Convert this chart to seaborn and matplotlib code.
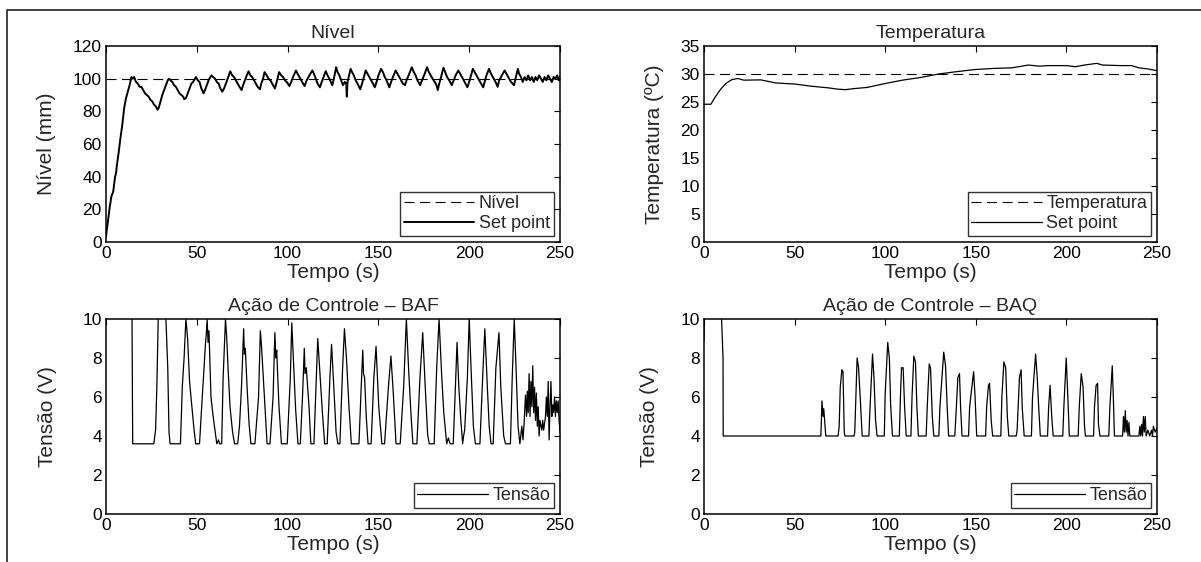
import numpy as np
import pandas as pd
import matplotlib.pyplot as plt
import seaborn as sns
from matplotlib.lines import Line2D

# ---------------------------------------------------------
# DATA
# ---------------------------------------------------------
setpoint_t = [0, 250]
nivel_sp = [100, 100]
temp_sp = [30, 30]

# Nivel (mm)
nivel_t = [0, 0.5, 1, 2, 3, 4, 5, 5.5, 6, 7, 8, 9, 10, 11, 12, 13, 14, 14.7, 15.5, 16.5,
           17.5, 18.5, 19.5, 20.5, 21.5, 22.5, 23.5, 24.5, 25.5, 26.5, 27.5, 28.4, 29, 30, 31, 32,
           33, 34, 34.7, 35.5, 36.5, 37.5, 38.5, 39.5, 40.5, 41.5, 42.5, 43, 44, 45, 46, 47,
           48, 49.5, 50.5, 51.5, 52.5, 53.7, 54.5, 55.5, 56.5, 58, 59, 60, 61, 62, 63, 64,
           65, 66, 67, 68.4, 69.5, 70.5, 71.5, 72.5, 73.5, 74.7, 75.5, 76.5, 77.5, 78.5, 79.5, 80.5,
           81.5, 82.5, 83.5, 84.8, 85.5, 86.5, 87.3, 88.5, 89.5, 90.5, 91.5, 93, 94, 95.3,
           96.5, 97.5, 98.5, 99.5, 101, 102, 103, 104.6, 105.5, 106.5, 107.5, 108.5, 109.4, 110.5,
           112, 113.6, 114.5, 115.5, 116.5, 117.8, 118.8, 119.8, 121, 122, 123, 124.6, 125.5, 126.7,
           127.5, 128.5, 129.5, 130.5, 131.5, 132.3, 132.6, 133, 134.7, 135.5, 136.5, 137.5, 138.5, 140,
           141, 142, 143, 144, 145, 146, 147, 148, 149, 150, 151.5, 152.5, 153.5, 154.5,
           156, 157, 158, 159.5, 160.5, 161.5, 162.5, 163.5, 164.6, 165.5, 167, 168.4, 169.5, 170.5,
           171.5, 173, 174, 175.5, 176.8, 177.8, 178.8, 179.8, 181, 182, 182.7, 183.5, 184.5, 185.8,
           186.8, 187.8, 189, 190.4, 191.5, 192.5, 194, 195, 196, 197, 199, 200, 201, 202,
           203, 204, 205, 206.5, 207.7, 208.5, 209.5, 210.9, 212, 213, 214.5, 215.7, 216.5, 218,
           219.5, 220.5, 221.5, 223, 224.7, 225.5, 226.8, 227.5, 228.5, 229.5, 230.5, 231.5, 232.5, 233.5,
           234.5, 235.5, 236.5, 237.5, 238.5, 239.5, 240.5, 241.5, 242.5, 243.5, 244.5, 245.5, 246.5, 247.5,
           248.5, 249.3, 250]
nivel_v = [3, 8, 12, 21, 28, 31, 40, 42, 47, 55, 64, 72, 82, 88, 92, 96, 101, 100, 101, 98,
           97, 95, 95, 93, 91, 90, 89, 87, 86, 84, 83, 81, 82, 86, 90, 93,
           96, 99, 100, 99, 98, 96, 95, 93, 91, 90, 89, 87.5, 88, 91, 94, 97,
           98, 101, 99, 98, 94, 91, 93, 96, 99, 102, 101, 100, 98, 97, 94, 92,
           94, 97, 100, 104.5, 102, 101, 99, 97, 95, 93, 96, 99, 102, 104.5, 102, 101,
           99, 97, 95, 93.5, 97, 100, 104, 102, 100, 99, 97, 94, 98, 104,
           102, 101, 99, 98, 95.5, 98, 101, 105, 103, 101, 99, 97, 95.5, 99,
           102, 105, 103, 100, 97, 94.7, 98, 101, 104.6, 102, 100, 96, 100, 107,
           104, 102, 99, 96, 98, 97, 89, 98, 106, 104, 102, 99, 97, 93.5,
           97, 101, 105, 103, 101, 99, 97, 94.7, 98, 102, 106, 104, 101, 99,
           94.7, 98, 101, 105, 103, 101, 99, 97, 96, 99, 103, 107, 104, 102,
           99, 96, 99, 103, 107, 104, 102, 100, 98, 96, 93, 97, 101, 106.7,
           104, 101, 99, 96, 99, 102, 105, 103, 101, 99, 94.7, 98, 102, 106,
           104, 102, 100, 97, 94.7, 98, 102, 106, 103, 101, 98, 95, 99, 102,
           105, 103, 101, 98, 96, 100, 106, 103, 101, 98, 101, 99, 102, 99,
           101, 98, 101, 99, 102, 100, 98, 101, 99, 102, 100, 98, 101, 100,
           102, 99, 101]

# Temperatura (C)
temp_t = [0, 3.8, 6, 9, 12, 15.4, 18.6, 22, 31.3, 39.7, 50.3, 59.8, 69.3, 73.5, 78, 83,
          90, 100, 109.5, 120, 129.5, 139, 149.6, 160, 170, 179, 185, 190, 200, 205,
          210, 216.8, 220, 230, 236, 240, 245, 250]
temp_v = [24.6, 24.6, 25.8, 27.2, 28.3, 29.0, 29.2, 28.9, 28.95, 28.4, 28.2, 27.8, 27.5, 27.3, 27.2, 27.4,
          27.6, 28.3, 28.9, 29.4, 30.0, 30.4, 30.8, 31.0, 31.1, 31.6, 31.4, 31.5, 31.5, 31.3,
          31.6, 31.9, 31.6, 31.5, 31.5, 31.1, 30.9, 30.6]

# Acao de controle - BAF (V)
baf_t = [0, 14.2, 14.7, 26.3, 27.3, 28.0, 28.8, 29.2, 32.5, 33, 34, 34.7, 35.3, 41, 42, 43, 44, 44.5,
         45, 46, 47.3, 48.3, 49.4, 51.5, 53, 54, 54.6, 55.2, 55.7, 56.2, 56.7, 57.8, 59, 60,
         61, 62, 62.5, 63.7, 64.5, 65.8, 66.5, 67.2, 68.3, 69.7, 70.8, 72.5, 73.5, 74.6, 75.8, 76.2,
         76.7, 77.7, 78.8, 79.8, 82, 84, 85, 85.7, 87.2, 88.7, 90.3, 92, 93, 93.5, 94, 95.2,
         96.6, 99.8, 101.5, 102.3, 103.4, 104.4, 105.7, 107, 108.2, 109.2, 109.6, 110.3, 111.8, 112.8, 114.5, 115.5,
         116.6, 117.6, 119.1, 120.4, 121.8, 123.3, 124.2, 125.4, 126.7, 127.7, 128.8, 130.3, 131.3, 132.4, 133.8, 135.1,
         139.3, 140.3, 141.4, 141.8, 142.4, 143.3, 144.3, 146, 147.5, 148.7, 150.2, 151.9, 153.4, 155.5, 156.9, 158.2,
         159.7, 162, 163.9, 165.4, 166.6, 168, 169, 171.2, 172.9, 174.4, 175.8, 177.1, 178, 180.7, 182.1, 183.4,
         184.9, 186, 187.6, 188.5, 189.5, 191.2, 192.2, 193.3, 194.3, 195.4, 196.4, 196.9, 197.5, 199, 200, 201,
         202.3, 203.4, 205.9, 207.4, 208.6, 210, 211, 212, 213.2, 214.7, 216.4, 217.4, 219, 220, 222.7, 223.7,
         224.8, 225.8, 226.9, 227.9, 229, 229.6, 230.2, 231, 231.6, 232, 232.5, 233, 233.5, 234, 234.5, 235,
         235.5, 236, 236.5, 237, 237.5, 238, 238.5, 239, 240, 240.5, 241, 242, 242.5, 243, 243.5, 244,
         244.5, 245, 245.5, 246, 246.5, 247, 247.5, 248, 248.5, 249, 249.5, 250]
baf_v = [12, 12, 3.6, 3.6, 4.3, 6.5, 10, 12, 12, 10, 7.5, 4.2, 3.6, 3.6, 6.5, 8, 10, 9.5,
         8.9, 6.8, 5.5, 4.5, 3.6, 3.6, 6, 7.5, 8.5, 9.2, 10, 8.8, 9.4, 6, 5, 4.3,
         3.6, 3.8, 3.6, 3.6, 7, 10, 9, 7.5, 5.5, 4.2, 3.6, 3.6, 4.5, 6.5, 9.5, 8.2,
         8.5, 6.5, 4.6, 3.6, 3.6, 6, 9.4, 8.5, 6, 3.6, 3.6, 6, 9.3, 8.0, 8.4, 5.6,
         3.6, 3.6, 7, 9.8, 7.5, 5.4, 3.6, 3.6, 6, 8.5, 7.2, 7.5, 5.5, 3.6, 3.6, 6.2,
         9.0, 7.5, 5.3, 3.6, 3.6, 7, 8.7, 6.6, 4.2, 3.6, 3.6, 7.5, 9.5, 8, 5.5, 3.6,
         3.6, 6, 8.4, 7.2, 7, 5, 3.6, 3.6, 7, 8.6, 5.5, 3.6, 3.6, 6.5, 8.1, 6.2,
         3.6, 3.6, 6.5, 10, 7.5, 5, 3.6, 3.6, 7, 9.3, 6.5, 4.1, 3.6, 3.6, 7.5, 10,
         7, 5.2, 3.6, 3.9, 3.6, 3.6, 6, 8.8, 6.5, 4.8, 3.6, 4.0, 4.3, 7, 10, 7.5,
         4.5, 3.6, 3.6, 7, 9.5, 6.5, 4.5, 3.6, 3.6, 7.5, 9.3, 6.5, 4, 3.6, 3.6, 7,
         10, 7.5, 4.5, 3.6, 4.5, 3.8, 4.6, 6.1, 5.0, 6.3, 5.2, 7.2, 5.0, 6.8, 5.5, 7.6,
         5.2, 6.5, 4.8, 6.2, 4.5, 5.5, 4.0, 4.8, 4.3, 4.8, 4.3, 5.0, 6.0, 5.0, 6.8, 3.8,
         5.5, 6.8, 5.0, 5.6, 5.2, 6.0, 5.0, 5.8, 5.2, 5.8, 4.8, 4.2]

# Acao de controle - BAQ (V)
baq_t = [0, 0.3, 9.5, 9.7, 10.5, 10.6, 64.5, 65.1, 65.7, 66.1, 67.2, 74, 74.6, 75.2, 76.1, 76.7, 77.4, 77.8,
         82.8, 83.2, 84.5, 85.3, 86.2, 87.3, 91, 91.5, 93, 93.8, 94.7, 95.5, 99.5, 100, 101.4, 102.3,
         103, 104, 107.8, 108.4, 109, 109.9, 110.7, 111.6, 114.2, 114.8, 115.8, 116.7, 117.5, 118.3, 122.6, 123.2,
         124.3, 125, 126, 126.8, 129.6, 130.2, 132.3, 133.3, 134.2, 135, 138.4, 139, 140.1, 141, 141.6, 142.4,
         146, 146.6, 148.8, 149.6, 150.5, 155.4, 156, 157, 157.6, 158.5, 159.3, 163.8, 164.4, 165.5, 166.5, 167.4,
         168.2, 172.3, 172.8, 174.1, 175, 175.6, 176.7, 180.7, 181.3, 183, 183.9, 184.7, 185.6, 189.6, 190.2, 191,
         191.9, 192.7, 198, 198.6, 199.9, 200.8, 201.6, 206.5, 207.1, 208.2, 209.2, 210, 210.5, 215, 215.5, 216.4,
         217.2, 217.7, 218.5, 223.4, 224, 225.3, 225.9, 226.5, 231, 231.5, 232, 232.5, 233, 233.5, 234, 234.5,
         235, 240, 240.5, 241, 241.5, 242, 242.5, 243, 243.5, 244, 245, 246, 247, 247.5, 248, 249, 250]
baq_v = [8.9, 12, 12, 10, 8, 4, 4, 5.8, 5.0, 5.4, 4, 4, 4.5, 6.5, 7.4, 7.3, 4.2, 4,
         4, 4.2, 8.0, 7.5, 6, 4, 4, 5.2, 8.2, 7.0, 4.8, 4, 4, 6.2, 8.8, 8.0,
         5.6, 4, 4, 6.0, 7.5, 7.5, 5.5, 4, 4, 6.0, 8.1, 7.8, 5.5, 4, 4, 5.5,
         7.7, 7.5, 5.0, 4, 4, 5.5, 8.3, 7.6, 5.5, 4, 4, 5.0, 7.0, 7.2, 5.5, 4,
         4, 5.5, 7.3, 6.0, 4, 4, 5.5, 6.6, 6.7, 4.8, 4, 4, 6.0, 7.8, 7.5, 5.0,
         4, 4, 4.3, 7.0, 7.4, 5.5, 4, 4, 6.0, 8.2, 7.0, 5.5, 4, 4, 5.5, 6.6,
         5.0, 4, 4, 5.5, 8.0, 6.0, 4, 4, 5.5, 7.2, 6.5, 4.5, 4, 4, 5.5, 6.6,
         6.7, 4.6, 4, 4, 5.5, 7.6, 6.0, 4, 4, 5.0, 4.2, 5.3, 4.2, 4.8, 4.0, 4.7,
         4.0, 4.0, 4.5, 4.0, 4.6, 4.0, 5.0, 4.2, 5.0, 4.0, 4.3, 4.0, 4.3, 4.0, 4.5, 4.2, 4.4]

# ---------------------------------------------------------
# STYLE
# ---------------------------------------------------------
sns.set_style("white")
plt.rcParams['font.family'] = ['Liberation Sans', 'DejaVu Sans']
plt.rcParams['xtick.direction'] = 'in'
plt.rcParams['ytick.direction'] = 'in'

fig = plt.figure(figsize=(12.01, 5.62), dpi=100)

W, H = 1201, 562
def add_axes(x0, y0, x1, y1):
    return fig.add_axes([x0 / W, 1 - y1 / H, (x1 - x0) / W, (y1 - y0) / H])

ax1 = add_axes(106, 46, 560, 242)
ax2 = add_axes(704, 46, 1157, 242)
ax3 = add_axes(106, 319, 560, 514)
ax4 = add_axes(704, 319, 1157, 514)

dash = (0, (9, 5))

def style(ax, title, ylabel, ylim, ystep, ylab_x):
    ax.set_xlim(0, 250)
    ax.set_ylim(*ylim)
    ax.set_xticks(np.arange(0, 251, 50))
    ax.set_yticks(np.arange(ylim[0], ylim[1] + 0.1, ystep))
    ax.tick_params(axis='both', which='both', direction='in', length=4, width=0.8,
                   top=True, right=True, labelsize=12.5, pad=3, colors='black')
    ax.tick_params(axis='x', pad=3)
    for s in ax.spines.values():
        s.set_visible(True)
        s.set_color('black')
        s.set_linewidth(1.1)
    ax.set_title(title, fontsize=14, pad=6)
    ax.set_xlabel("Tempo (s)", fontsize=15, labelpad=1)
    ax.set_ylabel(ylabel, fontsize=15)
    ax.yaxis.set_label_coords(ylab_x, 0.5)
    leg = ax.legend(loc='lower right', fontsize=13, frameon=True, fancybox=False,
                    edgecolor='black', handlelength=3.9, borderaxespad=0.35,
                    borderpad=0.2, labelspacing=0.15, handletextpad=0.25)
    leg.get_frame().set_linewidth(1.0)

# ---------------------------------------------------------
# NIVEL
# ---------------------------------------------------------
sns.lineplot(x=setpoint_t, y=nivel_sp, ax=ax1, color='k', lw=0.8, linestyle=dash,
             label='Nível', estimator=None, sort=False)
sns.lineplot(x=nivel_t, y=nivel_v, ax=ax1, color='k', lw=1.4,
             label='Set point', estimator=None, sort=False)
style(ax1, 'Nível', 'Nível (mm)', (0, 120), 20, -0.11)

# ---------------------------------------------------------
# TEMPERATURA
# ---------------------------------------------------------
sns.lineplot(x=setpoint_t, y=temp_sp, ax=ax2, color='k', lw=0.8, linestyle=dash,
             label='Temperatura', estimator=None, sort=False)
sns.lineplot(x=temp_t, y=temp_v, ax=ax2, color='k', lw=0.9,
             label='Set point', estimator=None, sort=False)
style(ax2, 'Temperatura', 'Temperatura (ºC)', (0, 35), 5, -0.088)

# ---------------------------------------------------------
# ACAO DE CONTROLE
# ---------------------------------------------------------
sns.lineplot(x=baf_t, y=baf_v, ax=ax3, color='k', lw=0.9,
             label='Tensão', estimator=None, sort=False)
style(ax3, 'Ação de Controle – BAF', 'Tensão (V)', (0, 10), 2, -0.108)

sns.lineplot(x=baq_t, y=baq_v, ax=ax4, color='k', lw=0.9,
             label='Tensão', estimator=None, sort=False)
style(ax4, 'Ação de Controle – BAQ', 'Tensão (V)', (0, 10), 2, -0.1)

# figure frame (top and left edges)
fig.add_artist(Line2D([7 / W, 7 / W, 1], [0, 1 - 10 / H, 1 - 10 / H],
                      transform=fig.transFigure, color='#333333', lw=1.3))

plt.savefig("out.png", dpi=100)
